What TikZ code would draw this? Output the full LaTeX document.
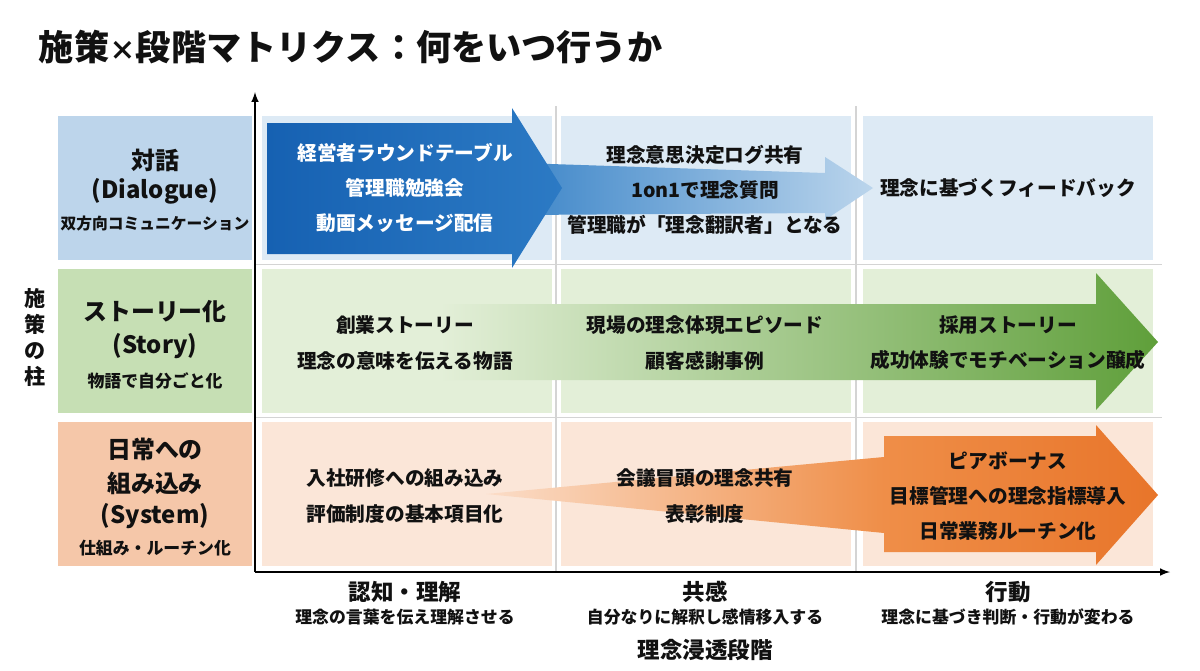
\documentclass[tikz,border=0pt]{standalone}
\usepackage{fontspec}
\setmainfont{Noto Sans CJK JP}
\usepackage{tikz}
\usetikzlibrary{arrows}
\definecolor{bcell}{HTML}{DDEAF5}
\definecolor{blab}{HTML}{BDD5EB}
\definecolor{gcell}{HTML}{E3EFD8}
\definecolor{glab}{HTML}{C6DFB4}
\definecolor{ocell}{HTML}{FBE6D8}
\definecolor{olab}{HTML}{F5C7A9}
\definecolor{lgrid}{HTML}{D4D4D4}
\definecolor{dblue}{HTML}{1661B2}
\definecolor{hblue}{HTML}{2C7AC4}
\definecolor{mblue}{HTML}{3F87C9}
\definecolor{pblue}{HTML}{BBD5EC}
\definecolor{mgreen}{HTML}{A9CF8C}
\definecolor{dgreen}{HTML}{5F9F3A}
\definecolor{porange}{HTML}{FBDDC8}
\definecolor{morange}{HTML}{EF8E48}
\definecolor{dorange}{HTML}{E8752A}
\definecolor{ink}{HTML}{111111}

\tikzset{
    cell/.style={minimum width=7.25cm, minimum height=3.6cm, inner sep=0pt},
    pillar/.style={minimum width=4.85cm, minimum height=3.6cm, inner sep=0pt},
    celltext/.style={align=center, text=ink, font=\bfseries\fontsize{14}{25}\selectfont},
    bigtext/.style={text=ink, font=\bfseries\fontsize{17}{20}\selectfont},
    smalltext/.style={text=ink, font=\bfseries\fontsize{12}{14}\selectfont},
    gridline/.style={draw=lgrid, line width=1pt}
}

\begin{document}
\begin{tikzpicture}[x=0.025cm, y=-0.025cm]
    \useasboundingbox (0,0) rectangle (1200,670);

    % title
    \node[anchor=west, text=ink, font=\bfseries\fontsize{25}{28}\selectfont] (title) at (34,47)
        {施策{\fontsize{19}{20}\selectfont ×}段階マトリクス：何をいつ行うか};

    % pillars
    \node[pillar, fill=blab] (p1) at (155,188) {};
    \node[pillar, fill=glab] (p2) at (155,341) {};
    \node[pillar, fill=olab] (p3) at (155,494) {};

    % matrix cells
    \node[cell, fill=bcell] (c11) at (407,188) {};
    \node[cell, fill=bcell] (c12) at (706,188) {};
    \node[cell, fill=bcell] (c13) at (1008,188) {};
    \node[cell, fill=gcell] (c21) at (407,341) {};
    \node[cell, fill=gcell] (c22) at (706,341) {};
    \node[cell, fill=gcell] (c23) at (1008,341) {};
    \node[cell, fill=ocell] (c31) at (407,494) {};
    \node[cell, fill=ocell] (c32) at (706,494) {};
    \node[cell, fill=ocell] (c33) at (1008,494) {};

    % grid
    \draw[gridline] (556,106) -- (556,572);
    \draw[gridline] (856,106) -- (856,572);
    \draw[gridline] (255,264.5) -- (1162,264.5);
    \draw[gridline] (255,417.5) -- (1162,417.5);

    % arrows
    \shade[left color=mblue, right color=pblue] (520,163) -- (825,173) -- (825,157) -- (873,188)
        -- (825,220) -- (825,213) -- (520,215) -- cycle;
    \shade[left color=dblue, right color=hblue] (267,123) -- (512,123) -- (512,108) -- (562,188)
        -- (512,268) -- (512,254) -- (267,254) -- cycle;
    \shade[left color=gcell, middle color=mgreen, right color=dgreen] (440,304) -- (1096,304) -- (1096,273)
        -- (1158,342) -- (1096,410) -- (1096,380) -- (440,380) -- cycle;
    \shade[left color=porange, right color=morange] (486,494) -- (884,457) -- (884,533) -- cycle;
    \shade[left color=morange, right color=dorange] (884,436) -- (1096,436) -- (1096,425) -- (1158,495)
        -- (1096,565) -- (1096,552) -- (884,552) -- cycle;

    % axes
    \coordinate (origin) at (255,572);
    \coordinate (ytop) at (255,92);
    \coordinate (xend) at (1170,572);
    \draw[line width=1.4pt, -latex] (origin) -- (ytop);
    \draw[line width=1.4pt, -latex] (origin) -- (xend);

    % pillar labels
    \node[bigtext] (p1a) at (155,160) {対話};
    \node[bigtext] (p1b) at (155,191) {(Dialogue)};
    \node[smalltext, font=\bfseries\fontsize{11.2}{14}\selectfont] (p1c) at (155,224) {双方向コミュニケーション};
    \node[bigtext] (p2a) at (155,312) {ストーリー化};
    \node[bigtext] (p2b) at (155,346) {(Story)};
    \node[smalltext] (p2c) at (155,381) {物語で自分ごと化};
    \node[bigtext] (p3a) at (155,449) {日常への};
    \node[bigtext] (p3b) at (155,483) {組み込み};
    \node[bigtext] (p3c) at (155,516) {(System)};
    \node[smalltext] (p3d) at (155,548) {仕組み・ルーチン化};

    % cell texts
    \node[celltext, text=white] (t11) at (405,188) {経営者ラウンドテーブル\\管理職勉強会\\動画メッセージ配信};
    \node[celltext] (t12) at (705,190) {理念意思決定ログ共有\\1on1で理念質問\\管理職が「理念翻訳者」となる};
    \node[celltext] (t13) at (1008,188) {理念に基づくフィードバック};
    \node[celltext] (t21) at (405,343) {創業ストーリー\\理念の意味を伝える物語};
    \node[celltext] (t22) at (705,343) {現場の理念体現エピソード\\顧客感謝事例};
    \node[celltext] (t23) at (1008,343) {採用ストーリー\\成功体験でモチベーション醸成};
    \node[celltext] (t31) at (405,496) {入社研修への組み込み\\評価制度の基本項目化};
    \node[celltext] (t32) at (705,496) {会議冒頭の理念共有\\表彰制度};
    \node[celltext] (t33) at (1008,496) {ピアボーナス\\目標管理への理念指標導入\\日常業務ルーチン化};

    % stage labels
    \node[bigtext, font=\bfseries\fontsize{16}{20}\selectfont] (s1) at (405,592) {認知・理解};
    \node[smalltext] (s1b) at (405,617) {理念の言葉を伝え理解させる};
    \node[bigtext, font=\bfseries\fontsize{16}{20}\selectfont] (s2) at (705,592) {共感};
    \node[smalltext] (s2b) at (705,617) {自分なりに解釈し感情移入する};
    \node[bigtext, font=\bfseries\fontsize{16}{20}\selectfont] (s3) at (1008,592) {行動};
    \node[smalltext] (s3b) at (1008,617) {理念に基づき判断・行動が変わる};
    \node[bigtext, font=\bfseries\fontsize{16}{20}\selectfont] (xlabel) at (705,650) {理念浸透段階};
    \node[bigtext, align=center, font=\bfseries\fontsize{15}{18.5}\selectfont] (ylabel) at (35,337) {施\\策\\の\\柱};
\end{tikzpicture}
\end{document}
